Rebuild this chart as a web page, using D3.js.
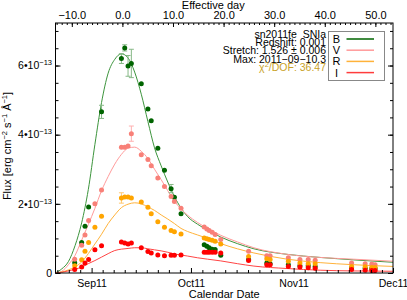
<!DOCTYPE html>
<html>
<head>
<meta charset="utf-8">
<script src="https://cdn.jsdelivr.net/npm/d3@7"></script>
<style>
  body { margin: 0; background: #fff; }
  svg { font-family: "Liberation Sans", Arial, sans-serif; }
</style>
</head>
<body>
<svg id="chart" width="407" height="300"></svg>
<script>

// observation epochs (MJD) shared by all four bands
var obsMjd = [55799.9, 55802.0, 55803.0, 55804.1, 55806.0, 55808.0, 55814.0, 55815.0, 55816.0, 55817.0,
  55820.0, 55822.0, 55823.0, 55825.0, 55827.0, 55829.0, 55830.0, 55832.0,
  55839.0, 55839.8, 55840.5, 55841.4, 55842.3, 55844.0,
  55852.4, 55857.9, 55858.9, 55864.4, 55867.9, 55870.4, 55872.5, 55883.5, 55887.6, 55889.6, 55890.6];

// flux in units of 1e-13 erg cm-2 s-1 A-1
var fluxB = [0.30, 0.88, 1.35, 1.91, null, 4.66, 6.20, 6.51, 5.99, 6.06, 5.47, 4.74, 4.40, 3.61, 2.97, 2.44, 2.19, 1.71,
  0.82, 0.77, 0.73, 0.69, 0.68, 0.51, 0.39, 0.29, 0.27, 0.24, 0.21, 0.21, 0.19, 0.15, 0.14, 0.13, 0.13];
var fluxV = [0.40, 0.80, 1.10, 1.52, 2.00, 2.40, 3.64, 3.64, 3.67, 4.03, 3.42, 3.28, 3.10, 2.75, 2.50, 2.21, 2.07, 1.87,
  1.33, 1.27, 1.23, 1.18, 1.11, 0.97, 0.63, 0.50, 0.50, 0.44, 0.39, 0.39, 0.37, 0.29, 0.27, 0.26, 0.24];
var fluxR = [0.21, 0.38, 0.63, 0.88, 1.32, 1.64, 2.17, 2.20, 2.20, 2.17, 2.05, 1.90, 1.71, 1.48, 1.32, 1.23, 1.19, 1.13,
  1.01, 0.99, 0.97, 0.95, 0.92, 0.84, 0.48, 0.41, 0.39, 0.34, 0.29, 0.27, 0.27, 0.19, 0.18, 0.16, 0.16];
var fluxI = [0.10, 0.17, 0.29, 0.39, 0.67, 0.79, 0.90, 0.87, 0.84, 0.87, 0.73, 0.62, 0.58, 0.52, 0.50, 0.51, 0.51, 0.52,
  0.60, 0.60, 0.60, 0.60, 0.60, 0.58, 0.36, 0.24, 0.24, 0.19, 0.17, 0.15, 0.14, 0.10, 0.08, 0.07, 0.07];

// 1-sigma errors (only the visible ones are non zero)
var errB = [0, 0, 0, 0, 0, 0.19, 0.14, 0.09, 0.30, 0.41, 0, 0, 0, 0, 0, 0.12, 0, 0,
  0, 0, 0, 0, 0, 0, 0, 0, 0, 0, 0, 0, 0, 0, 0, 0, 0];
var errV = [0, 0, 0, 0, 0, 0, 0, 0, 0, 0.22, 0, 0, 0, 0, 0, 0, 0, 0,
  0, 0, 0, 0, 0, 0, 0, 0, 0, 0, 0, 0, 0, 0, 0, 0, 0];
var errR = [0, 0, 0, 0, 0, 0, 0.15, 0, 0, 0, 0, 0, 0, 0, 0, 0, 0, 0,
  0, 0, 0, 0, 0, 0, 0, 0, 0, 0, 0, 0, 0, 0, 0, 0, 0];
var errI = [0, 0, 0, 0, 0, 0, 0, 0, 0, 0, 0, 0, 0, 0, 0, 0, 0, 0,
  0, 0, 0, 0, 0, 0, 0, 0, 0, 0, 0, 0, 0, 0, 0, 0, 0];

// template fit curves, read on a common grid (MJD)
var fitMjd = [55794, 55796, 55798, 55800, 55802, 55804, 55806, 55808, 55810, 55812, 55814, 55816, 55818, 55820, 55822,
  55824, 55826, 55828, 55830, 55832, 55834, 55837, 55840, 55844, 55849, 55854, 55864, 55874, 55884, 55896];
var fitB = [0, 0.12, 0.33, 0.79, 1.45, 2.41, 3.72, 4.93, 5.78, 6.18, 6.34, 6.22, 5.81, 5.17, 4.38,
  3.62, 3.10, 2.63, 2.21, 1.88, 1.63, 1.41, 1.24, 1.04, 0.85, 0.70, 0.54, 0.45, 0.38, 0.31];
var fitV = [0, 0.05, 0.24, 0.51, 0.95, 1.40, 1.87, 2.38, 2.79, 3.15, 3.43, 3.61, 3.64, 3.52, 3.31,
  3.00, 2.70, 2.38, 2.08, 1.85, 1.67, 1.46, 1.29, 1.09, 0.90, 0.73, 0.54, 0.45, 0.40, 0.34];
var fitR = [0, 0.03, 0.09, 0.18, 0.32, 0.56, 0.84, 1.12, 1.43, 1.68, 1.89, 1.99, 2.03, 2.00, 1.91,
  1.81, 1.68, 1.56, 1.43, 1.29, 1.20, 1.10, 1.00, 0.85, 0.70, 0.58, 0.40, 0.30, 0.24, 0.19];
var fitI = [0, 0.02, 0.06, 0.11, 0.17, 0.27, 0.36, 0.46, 0.56, 0.65, 0.69, 0.71, 0.73, 0.73, 0.70,
  0.67, 0.64, 0.60, 0.55, 0.52, 0.49, 0.44, 0.40, 0.35, 0.27, 0.20, 0.13, 0.08, 0.06, 0.05];

var bandNames = ['B', 'V', 'R', 'I'];
var yTicks = [0, 2, 4, 6];
var effTicks = [-10, 0, 10, 20, 30, 40, 50];

// fit parameters
var snName = 'sn2011fe  SNIa';
var redshift = 0.001;
var stretch = 1.526, stretchErr = 0.006;
var maxMjd = 55814.3, maxLabel = '2011\u221209\u221210.3';
var chi2dof = 36.47;

// ---- layout / style  (note: "top" is reserved on window, so use pl/pr/pt/pb)
var pl = 55.5, pr = 393, pt = 23, pb = 273;
var xRange = [55794.1, 55896];
var yMax = 7.23;

var ptColor = { B: '#006400', V: '#f88078', R: '#ffa500', I: '#ff0000' };
var lnColor = { B: '#3c943c', V: '#ff9a9a', R: '#ffb23a', I: '#ff4444' };
var lgColor = { B: '#006400', V: '#ff9a9a', R: '#ffb23a', I: '#ff3c3c' };
var erColor = { B: '#86b886', V: '#ffb0b0', R: '#ffc870', I: '#ff9090' };

var bandData = {
  B: { flux: fluxB, err: errB, fit: fitB },
  V: { flux: fluxV, err: errV, fit: fitV },
  R: { flux: fluxR, err: errR, fit: fitR },
  I: { flux: fluxI, err: errI, fit: fitI }
};

var mjd0 = Date.UTC(1858, 10, 17);
function mjdDate(m){ return new Date(mjd0 + m * 864e5); }

var svg = d3.select('#chart');

var x = d3.scaleUtc()
  .domain(xRange.map(mjdDate))
  .range([pl, pr]);

var y = d3.scaleLinear()
  .domain([0, yMax])
  .range([pb, pt]);

// effective day = rest-frame days since max, divided by stretch
function effDay(m){ return (m - maxMjd) / (1 + redshift) / stretch; }
var xEff = d3.scaleLinear()
  .domain(xRange.map(effDay))
  .range([pl, pr]);

svg.append('defs').append('clipPath').attr('id', 'clip')
  .append('rect')
  .attr('x', pl).attr('y', pt)
  .attr('width', pr - pl).attr('height', pb - pt);

// ---- fit curves
var line = d3.line()
  .x(function(d){ return x(mjdDate(d[0])); })
  .y(function(d){ return y(d[1]); })
  .curve(d3.curveMonotoneX);

var plot = svg.append('g').attr('clip-path', 'url(#clip)');

bandNames.forEach(function(b){
  plot.append('path')
    .datum(fitMjd.map(function(m, i){ return [m, bandData[b].fit[i]]; }))
    .attr('fill', 'none')
    .attr('stroke', lnColor[b])
    .attr('stroke-width', 1)
    .attr('d', line);
});

// ---- points with error bars
bandNames.forEach(function(b){
  var pts = obsMjd.map(function(m, i){
    return { m: m, f: bandData[b].flux[i], e: bandData[b].err[i] };
  }).filter(function(d){ return d.f != null; });

  var g = plot.append('g').attr('class', 'band-' + b);

  var eb = g.selectAll('g.err')
    .data(pts.filter(function(d){ return d.e > 0; }))
    .enter().append('g')
    .attr('class', 'err')
    .attr('stroke', erColor[b])
    .attr('stroke-width', 1);
  eb.append('line')
    .attr('x1', function(d){ return x(mjdDate(d.m)); })
    .attr('x2', function(d){ return x(mjdDate(d.m)); })
    .attr('y1', function(d){ return y(d.f - d.e); })
    .attr('y2', function(d){ return y(d.f + d.e); });
  [-1, 1].forEach(function(s){
    eb.append('line')
      .attr('x1', function(d){ return x(mjdDate(d.m)) - 2.5; })
      .attr('x2', function(d){ return x(mjdDate(d.m)) + 2.5; })
      .attr('y1', function(d){ return y(d.f + s * d.e); })
      .attr('y2', function(d){ return y(d.f + s * d.e); });
  });

  g.selectAll('circle')
    .data(pts)
    .enter().append('circle')
    .attr('cx', function(d){ return x(mjdDate(d.m)); })
    .attr('cy', function(d){ return y(d.f); })
    .attr('r', 2.5)
    .attr('fill', ptColor[b]);
});

// ---- axes
function styleAxis(g){
  g.select('.domain').remove();
  g.selectAll('line').attr('stroke', '#000');
  g.selectAll('text')
    .attr('fill', '#000')
    .style('font-family', '"Liberation Sans", Arial, sans-serif')
    .style('font-size', '10.5px');
}

// bottom: month ticks plus 8 minor ticks per month
var months = d3.utcMonth.range(d3.utcMonth.floor(x.domain()[0]), +x.domain()[1] + 1);
var monthTicks = months.filter(function(d){ return d >= x.domain()[0]; });
var minorDates = [];
months.forEach(function(m){
  var next = d3.utcMonth.offset(m, 1);
  for (var j = 1; j < 9; j++){
    var d = new Date(+m + j * (next - m) / 9);
    if (d >= x.domain()[0] && d <= x.domain()[1]) minorDates.push(d);
  }
});

svg.append('g')
  .attr('transform', 'translate(0,' + pb + ')')
  .call(d3.axisBottom(x).tickValues(minorDates).tickSize(-3).tickFormat(''))
  .call(styleAxis);
svg.append('g')
  .attr('transform', 'translate(0,' + pb + ')')
  .call(d3.axisBottom(x).tickValues(monthTicks).tickSize(-5).tickPadding(7)
    .tickFormat(d3.utcFormat('%b%y')))
  .call(styleAxis);

// top: effective day
svg.append('g')
  .attr('transform', 'translate(0,' + pt + ')')
  .call(d3.axisTop(xEff).tickValues(d3.range(-13, 54)).tickSize(-2).tickFormat(''))
  .call(styleAxis);
svg.append('g')
  .attr('transform', 'translate(0,' + pt + ')')
  .call(d3.axisTop(xEff).tickValues(effTicks).tickSize(-4).tickPadding(4.5)
    .tickFormat(d3.format('.1f')))
  .call(styleAxis)
  .selectAll('text').style('font-size', '11px');

// left and right flux axes
var minorY = d3.range(0, yMax, 0.5);
[[pl, d3.axisLeft], [pr, d3.axisRight]].forEach(function(a){
  svg.append('g')
    .attr('transform', 'translate(' + a[0] + ',0)')
    .call(a[1](y).tickValues(minorY).tickSize(-3).tickFormat(''))
    .call(styleAxis);
  svg.append('g')
    .attr('transform', 'translate(' + a[0] + ',0)')
    .call(a[1](y).tickValues(yTicks).tickSize(-5).tickFormat(''))
    .call(styleAxis);
});

// rich text helper: parts = [[text, isSuper], ...]
function rich(t, parts, supSize){
  var up = false;
  parts.forEach(function(p){
    var ts = t.append('tspan').text(p[0]);
    if (p[1] && !up) ts.attr('dy', -4).style('font-size', supSize + 'px');
    else if (p[1]) ts.style('font-size', supSize + 'px');
    else if (up) ts.attr('dy', 4);
    up = p[1];
  });
  return t;
}

yTicks.forEach(function(v){
  var t = svg.append('text')
    .attr('x', 52)
    .attr('y', y(v))
    .attr('dy', '0.35em')
    .attr('text-anchor', 'end')
    .style('font-size', '10.5px');
  if (v === 0) t.text('0');
  else rich(t, [[v + '\u202210', false], ['\u221213', true]], 7.5);
});

// frame
svg.append('rect')
  .attr('x', pl).attr('y', pt)
  .attr('width', pr - pl).attr('height', pb - pt)
  .attr('fill', 'none')
  .attr('stroke', '#000')
  .attr('stroke-width', 1);

// axis titles
svg.append('text')
  .attr('x', (pl + pr) / 2 - 11)
  .attr('y', 9)
  .attr('text-anchor', 'middle')
  .style('font-size', '11px')
  .text('Effective day');

svg.append('text')
  .attr('x', (pl + pr) / 2)
  .attr('y', 298)
  .attr('text-anchor', 'middle')
  .style('font-size', '11px')
  .text('Calendar Date');

rich(svg.append('text')
  .attr('transform', 'translate(11,' + ((pt + pb) / 2 - 2) + ') rotate(-90)')
  .attr('text-anchor', 'middle')
  .style('font-size', '11px'),
  [['Flux [erg cm', false], ['\u22122', true], [' s', false], ['\u22121', true],
   [' \u00c5', false], ['\u22121', true], [']', false]], 7.5);

// ---- fit summary text (tightly stacked, as in the original)
var info = [
  snName,
  'Redshift: ' + d3.format('.3f')(redshift),
  'Stretch: ' + d3.format('.3f')(stretch) + ' \u00b1 ' + d3.format('.3f')(stretchErr),
  'Max: ' + maxLabel
];
info.forEach(function(s, i){
  svg.append('text')
    .attr('x', 326)
    .attr('y', 37.5 + i * 8.4)
    .attr('text-anchor', 'end')
    .style('font-size', '10.5px')
    .style('white-space', 'pre')
    .text(s);
});
rich(svg.append('text')
  .attr('x', 326)
  .attr('y', 37.5 + 4 * 8.4)
  .attr('text-anchor', 'end')
  .attr('fill', '#c9a227')
  .style('font-size', '10.5px'),
  [['\u03c7', false], ['2', true], ['/DOF: ' + chi2dof.toFixed(2), false]], 7.5);

// ---- legend
var leg = svg.append('g').attr('transform', 'translate(328.5,31.5)');
leg.append('rect')
  .attr('width', 56).attr('height', 49)
  .attr('fill', '#fff')
  .attr('stroke', '#888');
bandNames.forEach(function(b, i){
  var yy = 7.5 + i * 11.2;
  leg.append('text')
    .attr('x', 8).attr('y', yy + 4)
    .attr('text-anchor', 'middle')
    .style('font-size', '11px')
    .text(b);
  leg.append('line')
    .attr('x1', 18).attr('x2', 45.5)
    .attr('y1', yy).attr('y2', yy)
    .attr('stroke', lgColor[b])
    .attr('stroke-width', 1.5);
});

</script>
</body>
</html>
